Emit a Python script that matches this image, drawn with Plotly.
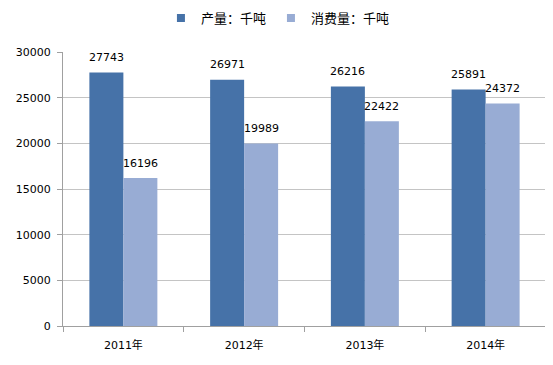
import plotly.graph_objects as go

categories = ["2011年", "2012年", "2013年", "2014年"]
production = [27743, 26971, 26216, 25891]
consumption = [16196, 19989, 22422, 24372]
series_names = ["产量：千吨", "消费量：千吨"]
y_ticks = [0, 5000, 10000, 15000, 20000, 25000, 30000]
y_tick_text = [str(v) for v in y_ticks]

COLORS = ["#4672A8", "#98ACD4"]
FONT = "DejaVu Sans, Noto Sans CJK SC, sans-serif"
CJK = "Noto Sans CJK SC, sans-serif"

# The page body adds an 8px margin, so the figure is 8px smaller than the window
W, H = 545, 357
L, R, T, B = 55, 7, 44, 39
BARGAP = 0.437
plot_w = W - L - R
bar_w = plot_w / len(categories) * (1 - BARGAP) / 2

fig = go.Figure()
for name, vals, col in zip(series_names, [production, consumption], COLORS):
    fig.add_trace(go.Bar(
        x=categories, y=vals, name=name,
        marker=dict(color=col, line=dict(width=0)),
        showlegend=False,
    ))
    # legend entry with a small square symbol
    fig.add_trace(go.Scatter(
        x=[None], y=[None], mode="markers", name=name,
        marker=dict(symbol="square", size=8, color=col),
        showlegend=True,
    ))

annotations = []
for vals, sgn in zip([production, consumption], [-1, 1]):
    for c, v in zip(categories, vals):
        annotations.append(dict(
            x=c, y=v, xref="x", yref="y", text=str(v), showarrow=False,
            xshift=sgn * bar_w / 2, yshift=15, yanchor="middle",
            font=dict(size=11, color="#000000", family=FONT),
        ))

fig.update_layout(
    width=W, height=H,
    margin=dict(l=L, r=R, t=T, b=B, autoexpand=False),
    paper_bgcolor="white", plot_bgcolor="white",
    barmode="group", bargap=BARGAP, bargroupgap=0,
    font=dict(family=FONT, size=11, color="#000000"),
    legend=dict(orientation="h", x=0.445, xanchor="center", y=1.124, yanchor="middle",
                font=dict(size=13, family=CJK, color="#000000"),
                itemwidth=30, tracegroupgap=0, bgcolor="rgba(0,0,0,0)"),
    annotations=annotations,
    showlegend=True,
)
fig.update_xaxes(
    showline=True, linecolor="#A0A0A0", linewidth=1,
    ticks="outside", tickson="boundaries", ticklen=5, tickcolor="#A0A0A0",
    tickfont=dict(size=11, color="#000000", family=FONT),
    ticklabelstandoff=9,
    showgrid=False,
)
fig.update_yaxes(
    range=[0, 30000], tickvals=y_ticks, ticktext=y_tick_text,
    showline=True, linecolor="#A0A0A0", linewidth=1,
    ticks="outside", ticklen=5, tickcolor="#A0A0A0",
    tickfont=dict(size=11, color="#000000", family=FONT),
    ticklabelstandoff=4,
    showgrid=True, gridcolor="#C4C4C4", gridwidth=1,
    zeroline=False,
)

fig.write_html("out.html")
